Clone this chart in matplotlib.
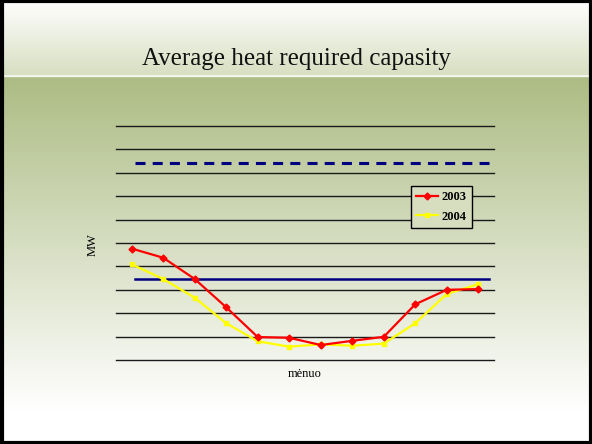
import numpy as np
import matplotlib
matplotlib.use("Agg")
import matplotlib.pyplot as plt
from matplotlib.patches import Rectangle

months = list(range(1, 13))
y2003 = [4.76, 4.37, 3.46, 2.25, 0.98, 0.95, 0.64, 0.82, 0.99, 2.38, 3.00, 3.03]
y2004 = [4.09, 3.46, 2.66, 1.57, 0.80, 0.57, 0.67, 0.61, 0.70, 1.57, 2.82, 3.24]
avg_level = 3.45
max_level = 8.43
series_labels = ["2003", "2004"]
title = "Average heat required capasity"
xlabel = "mėnuo"
ylabel = "MW"

W, H = 592, 444
fig = plt.figure(figsize=(W / 100, H / 100), dpi=100)

# background gradient
bg = fig.add_axes([0, 0, 1, 1])
rows = np.arange(H)
img = np.ones((H, 1, 3))
top_c0 = np.array([1.0, 1.0, 1.0])
top_c1 = np.array([0xd8, 0xdf, 0xc2]) / 255
gr_c0 = np.array([0xad, 0xbc, 0x84]) / 255
gr_c1 = np.array([1.0, 1.0, 1.0])
for r in rows:
    if r < 76:
        t = r / 75
        img[r, 0] = top_c0 * (1 - t) + top_c1 * t
    elif r < 78:
        img[r, 0] = [0.96, 0.97, 0.93]
    else:
        t = min(1.0, (r - 78) / (410 - 78))
        img[r, 0] = gr_c0 * (1 - t) + gr_c1 * t
bg.imshow(img, aspect="auto", extent=[0, W, H, 0], interpolation="bilinear")
bg.set_xlim(0, W)
bg.set_ylim(H, 0)
bg.axis("off")
bg.add_patch(Rectangle((1.5, 1.5), W - 3, H - 3, fill=False, edgecolor="black", lw=3))
bg.text(W / 2, 59, title, ha="center", va="center", fontsize=18,
        family="Liberation Serif", color="#111111")

# plot axes
ax = fig.add_axes([116 / W, (H - 360) / H, 378 / W, 234 / H])
ax.patch.set_alpha(0)
ax.set_xlim(0.5, 12.5)
ax.set_ylim(0, 10)
for v in range(0, 11):
    ax.axhline(v, color="#1a1a1a", lw=1.0, zorder=1, clip_on=False)
for s in ax.spines.values():
    s.set_visible(False)
ax.set_xticks([])
ax.set_yticks([])

ax.plot([1.1, 12.33], [max_level, max_level], color="#000080", lw=2.2,
        ls=(0, (3.27, 2.36)), dash_capstyle="butt", zorder=2)
ax.plot([1.1, 12.33], [avg_level, avg_level], color="#000080", lw=1.8, zorder=2)

ax.plot(months, y2003, color="#ff0000", lw=1.6, marker="D", ms=3.5,
        label=series_labels[0], zorder=4)
ax.plot(months, y2004, color="#ffff00", lw=1.6, marker="s", ms=3.5,
        label=series_labels[1], zorder=3)

leg = ax.legend(loc="upper left", bbox_to_anchor=(0.78, 0.745), frameon=True,
                prop={"family": "Liberation Serif", "weight": "bold", "size": 9},
                handlelength=1.7, handletextpad=0.3, borderpad=0.45,
                labelspacing=0.6, fancybox=False, borderaxespad=0)
leg.get_frame().set_edgecolor("black")
leg.get_frame().set_facecolor("#d7dec0")
leg.get_frame().set_linewidth(1.0)
leg.get_frame().set_alpha(1)

fig.text(305 / W, 1 - 374 / H, xlabel, ha="center", va="center", fontsize=9,
         family="Liberation Serif")
fig.text(93 / W, 1 - 245 / H, ylabel, ha="center", va="center", fontsize=9,
         family="Liberation Serif", rotation=90)

fig.savefig("out.png", dpi=100)
